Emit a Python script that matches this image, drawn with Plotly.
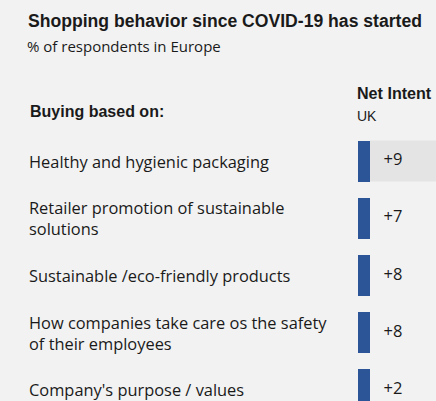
import plotly.graph_objects as go

# Survey rows and UK net intent values
categories = [
    "Healthy and hygienic packaging",
    "Retailer promotion of sustainable<br>solutions",
    "Sustainable /eco-friendly products",
    "How companies take care os the safety<br>of their employees",
    "Company's purpose / values",
]
net_intent_uk = [9, 7, 8, 8, 2]

W, H = 436, 401
BG = "#f2f2f2"
BLUE = "#2c5597"
TEXT = "#1a1a1a"

# row geometry (pixels)
row0, row_step = 161.0, 57.2
bar_px_h = 41
bar_left, bar_w = 358, 12

ids = list(range(len(categories)))
y_top = (0 - row0) / row_step
y_bot = (H - row0) / row_step

fig = go.Figure()

# highlight band for the first row
hw = bar_px_h / row_step / 2
fig.add_shape(type="rect", xref="x", yref="y", x0=bar_left + bar_w, x1=W,
              y0=ids[0] - hw, y1=ids[0] + hw, fillcolor="#e4e4e4",
              line_width=0, layer="below")

# row marker stripes
fig.add_trace(go.Bar(
    y=ids, x=[bar_w] * len(ids), base=bar_left, orientation="h",
    width=bar_px_h / row_step, marker=dict(color=BLUE, line_width=0),
    hoverinfo="skip", showlegend=False,
))

# value labels
fig.add_trace(go.Scatter(
    y=ids, x=[393] * len(ids), mode="text",
    text=[f"+{v}" if v > 0 else str(v) for v in net_intent_uk],
    textfont=dict(family="Open Sans", size=16.5, color=TEXT),
    textposition="middle center", hoverinfo="skip", showlegend=False,
))

# row labels
for i, lab in zip(ids, categories):
    fig.add_annotation(x=27 / W, xref="paper", y=i, yref="y", text=lab,
                       showarrow=False, xanchor="left", yanchor="middle",
                       align="left",
                       font=dict(family="Open Sans", size=16.4, color=TEXT))

# headers
def txt(x, y, s, size, family, bold=False):
    fig.add_annotation(x=x / W, y=1 - y / H, xref="paper", yref="paper",
                       text=f"<b>{s}</b>" if bold else s, showarrow=False,
                       xanchor="left", yanchor="middle",
                       font=dict(family=family, size=size, color=TEXT))

txt(25.5, 21, "Shopping behavior since COVID-19 has started", 17.6, "Liberation Sans", True)
txt(25, 46, "% of respondents in Europe", 15, "Open Sans")
txt(28, 112, "Buying based on:", 16, "Liberation Sans", True)
txt(355, 93, "Net Intent", 16.1, "Liberation Sans", True)
txt(355, 116, "UK", 14, "Liberation Sans")

fig.update_layout(
    width=W, height=H, margin=dict(l=0, r=0, t=0, b=0),
    paper_bgcolor=BG, plot_bgcolor=BG,
    xaxis=dict(range=[0, W], visible=False, fixedrange=True),
    yaxis=dict(range=[y_bot, y_top], visible=False, fixedrange=True),
    bargap=0,
)

fig.write_html("out.html")
